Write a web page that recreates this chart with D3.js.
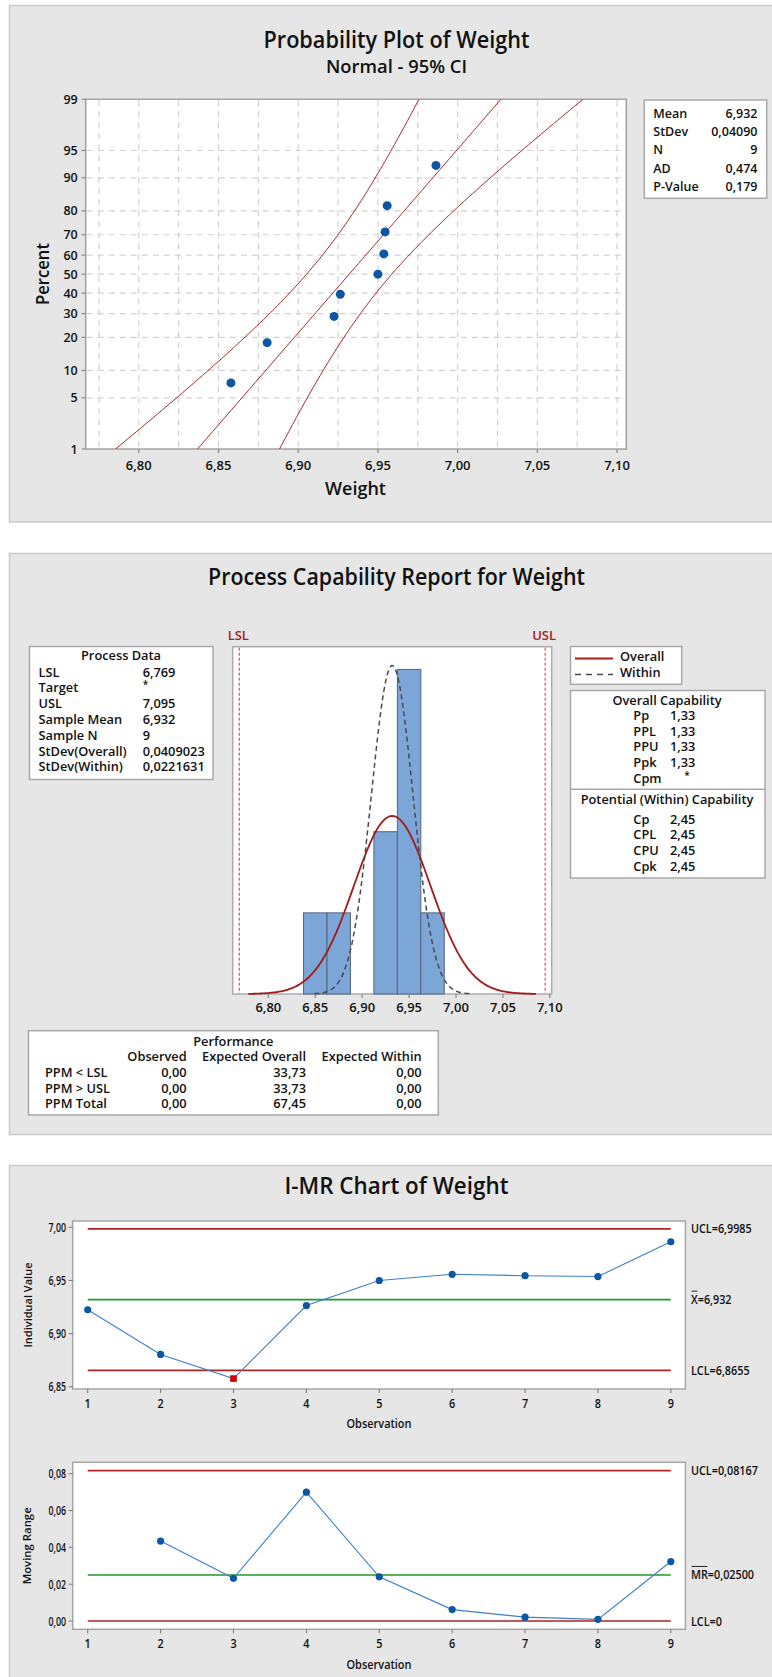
<!DOCTYPE html>
<html><head><meta charset="utf-8">
<script src="https://cdn.jsdelivr.net/npm/d3@7"></script>
<style>
body{margin:0;background:#fff;}
svg{display:block;font-family:"Open Sans","Noto Sans",sans-serif;}
</style></head><body>
<svg id="c" width="772" height="1677"></svg>
<script>
// ================= DATA =================
const observations = [1, 2, 3, 4, 5, 6, 7, 8, 9];
const weights = [6.9225, 6.8805, 6.8578, 6.9264, 6.9500, 6.9558, 6.9545, 6.9537, 6.9864];
const movingRanges = [null, 0.0434, 0.0232, 0.0700, 0.0240, 0.0062, 0.0021, 0.0009, 0.0323];
const outOfControl = [3];

// probability plot
const probPercents = [7.4, 18.1, 28.7, 39.4, 50.0, 60.6, 71.3, 81.9, 92.6];
const probYTicks = [1, 5, 10, 20, 30, 40, 50, 60, 70, 80, 90, 95, 99];
const probXTicks = [6.80, 6.85, 6.90, 6.95, 7.00, 7.05, 7.10];
const probXGrid = [6.775, 6.80, 6.825, 6.85, 6.875, 6.90, 6.925, 6.95, 6.975, 7.00, 7.025, 7.05, 7.075, 7.10];
const probStatLabels = ["Mean", "StDev", "N", "AD", "P-Value"];
const probStatValues = ["6,932", "0,04090", "9", "0,474", "0,179"];
const fitMean = 6.932, fitSd = 0.04090, fitN = 9;

// capability histogram
const binCenters = [6.850, 6.875, 6.900, 6.925, 6.950, 6.975];
const binCounts = [1, 1, 0, 2, 4, 1];
const binWidth = 0.025;
const histXTicks = [6.80, 6.85, 6.90, 6.95, 7.00, 7.05, 7.10];
const LSL = 6.769, USL = 7.095;
const sdOverall = 0.0409023, sdWithin = 0.0221631;
const processLabels = ["LSL", "Target", "USL", "Sample Mean", "Sample N", "StDev(Overall)", "StDev(Within)"];
const processValues = ["6,769", "*", "7,095", "6,932", "9", "0,0409023", "0,0221631"];
const overallCapLabels = ["Pp", "PPL", "PPU", "Ppk", "Cpm"];
const overallCapValues = ["1,33", "1,33", "1,33", "1,33", "*"];
const withinCapLabels = ["Cp", "CPL", "CPU", "Cpk"];
const withinCapValues = ["2,45", "2,45", "2,45", "2,45"];
const perfCols = ["Observed", "Expected Overall", "Expected Within"];
const perfRows = ["PPM < LSL", "PPM > USL", "PPM Total"];
const perfObserved = ["0,00", "0,00", "0,00"];
const perfExpOverall = ["33,73", "33,73", "67,45"];
const perfExpWithin = ["0,00", "0,00", "0,00"];

// I-MR
const iTicks = [6.85, 6.90, 6.95, 7.00];
const mrTicks = [0.00, 0.02, 0.04, 0.06, 0.08];
const iUCL = 6.9985, iMean = 6.932, iLCL = 6.8655;
const mrUCL = 0.08167, mrMean = 0.02500, mrLCL = 0;

// ================= HELPERS =================
const loc = d3.formatLocale({decimal: ",", thousands: ".", grouping: [3], currency: ["", ""]});
const f2 = loc.format(".2f");
const svg = d3.select("#c");

function txt(g, x, y, s, o = {}) {
  const t = g.append("text").attr("x", x).attr("y", y).text(s)
    .attr("font-size", o.size || 12.5).attr("font-weight", o.weight || 600)
    .attr("fill", o.fill || "#111").attr("text-anchor", o.anchor || "start")
    .attr("dominant-baseline", "central");
  if (o.rot) t.attr("transform", `rotate(${o.rot},${x},${y})`);
  if (o.w) t.attr("textLength", o.w).attr("lengthAdjust", "spacingAndGlyphs");
  if (o.sq) { const L = t.node().getComputedTextLength(); t.attr("textLength", L * o.sq).attr("lengthAdjust", "spacingAndGlyphs"); }
  return t;
}
function qnorm(p) {
  const a = [-3.969683028665376e+01, 2.209460984245205e+02, -2.759285104469687e+02, 1.383577518672690e+02, -3.066479806614716e+01, 2.506628277459239e+00];
  const b = [-5.447609879822406e+01, 1.615858368580409e+02, -1.556989798598866e+02, 6.680131188771972e+01, -1.328068155288572e+01];
  const c = [-7.784894002430293e-03, -3.223964580411365e-01, -2.400758277161838e+00, -2.549732539343734e+00, 4.374664141464968e+00, 2.938163982698783e+00];
  const d = [7.784695709041462e-03, 3.224671290700398e-01, 2.445134137142996e+00, 3.754408661907416e+00];
  const pl = 0.02425; let q, r;
  if (p < pl) { q = Math.sqrt(-2 * Math.log(p)); return (((((c[0]*q+c[1])*q+c[2])*q+c[3])*q+c[4])*q+c[5]) / ((((d[0]*q+d[1])*q+d[2])*q+d[3])*q+1); }
  if (p <= 1 - pl) { q = p - 0.5; r = q*q; return (((((a[0]*r+a[1])*r+a[2])*r+a[3])*r+a[4])*r+a[5])*q / (((((b[0]*r+b[1])*r+b[2])*r+b[3])*r+b[4])*r+1); }
  q = Math.sqrt(-2 * Math.log(1 - p)); return -(((((c[0]*q+c[1])*q+c[2])*q+c[3])*q+c[4])*q+c[5]) / ((((d[0]*q+d[1])*q+d[2])*q+d[3])*q+1);
}
const dnorm = (x, m, s) => Math.exp(-0.5 * ((x - m) / s) ** 2) / (s * Math.sqrt(2 * Math.PI));

function panel(y0, y1) {
  svg.append("rect").attr("x", 9.5).attr("y", y0 + 0.5).attr("width", 780).attr("height", y1 - y0)
    .attr("fill", "#e6e6e6").attr("stroke", "#cbcbcb").attr("stroke-width", 1.5);
}
function box(g, x0, y0, x1, y1, stroke = "#a9a9a9") {
  g.append("rect").attr("x", x0).attr("y", y0).attr("width", x1 - x0).attr("height", y1 - y0)
    .attr("fill", "#fff").attr("stroke", stroke).attr("stroke-width", 1.5);
}

// ================= PANEL 1: PROBABILITY PLOT =================
panel(5, 521.5);
const g1 = svg.append("g");
txt(g1, 396.5, 39, "Probability Plot of Weight", {size: 22.5, anchor: "middle", w: 266});
txt(g1, 396.5, 65.5, "Normal - 95% CI", {size: 17.5, weight: 600, anchor: "middle", w: 141});

const P1 = {x0: 85.7, x1: 626.3, y0: 99.3, y1: 449};
const xP = d3.scaleLinear().domain([6.7667, 7.1058]).range([P1.x0, P1.x1]);
const yP = d3.scaleLinear().domain([qnorm(0.01), qnorm(0.99)]).range([P1.y1, P1.y0]);
const yPct = p => yP(qnorm(p / 100));
box(g1, P1.x0, P1.y0, P1.x1, P1.y1, "#a3a3a3");
svg.append("clipPath").attr("id", "clip1").append("rect")
  .attr("x", P1.x0).attr("y", P1.y0).attr("width", P1.x1 - P1.x0).attr("height", P1.y1 - P1.y0);

g1.selectAll(".gx").data(probXGrid).join("line")
  .attr("x1", d => xP(d)).attr("x2", d => xP(d)).attr("y1", P1.y0 + 1).attr("y2", P1.y1 - 1)
  .attr("stroke", "#d2d2d2").attr("stroke-width", 1.2).attr("stroke-dasharray", "6,5");
g1.selectAll(".gy").data(probYTicks.filter(d => d > 1 && d < 99)).join("line")
  .attr("x1", P1.x0 + 1).attr("x2", P1.x1 - 1).attr("y1", d => yPct(d)).attr("y2", d => yPct(d))
  .attr("stroke", "#d2d2d2").attr("stroke-width", 1.2).attr("stroke-dasharray", "6,5");

g1.selectAll(".ty").data(probYTicks).join("line")
  .attr("x1", P1.x0 - 4).attr("x2", P1.x0).attr("y1", d => yPct(d)).attr("y2", d => yPct(d))
  .attr("stroke", "#888").attr("stroke-width", 1.2);
probYTicks.forEach(d => txt(g1, P1.x0 - 8, yPct(d), String(d), {size: 12.5, anchor: "end"}));
g1.selectAll(".tx").data(probXTicks).join("line")
  .attr("x1", d => xP(d)).attr("x2", d => xP(d)).attr("y1", P1.y1).attr("y2", P1.y1 + 4)
  .attr("stroke", "#888").attr("stroke-width", 1.2);
probXTicks.forEach(d => txt(g1, xP(d), 464.5, f2(d), {size: 13, anchor: "middle"}));
txt(g1, 355.5, 488, "Weight", {size: 17.5, anchor: "middle", w: 61});
txt(g1, 42, 274, "Percent", {size: 17.5, anchor: "middle", rot: -90, w: 62});

const zs = d3.range(0, 101).map(i => qnorm(0.01) + i * (qnorm(0.99) - qnorm(0.01)) / 100);
const half = z => 1.96 * fitSd * Math.sqrt(1 / fitN + z * z / (2 * fitN));
const lineP = d3.line().x(d => xP(d[0])).y(d => yP(d[1]));
const gc = g1.append("g").attr("clip-path", "url(#clip1)");
[z => fitMean + z * fitSd, z => fitMean + z * fitSd - half(z), z => fitMean + z * fitSd + half(z)].forEach(fn => {
  gc.append("path").attr("d", lineP(zs.map(z => [fn(z), z]))).attr("fill", "none")
    .attr("stroke", "#a52a2a").attr("stroke-width", 1);
});
const sortedW = weights.slice().sort(d3.ascending);
g1.selectAll(".pt").data(sortedW).join("circle")
  .attr("cx", d => xP(d)).attr("cy", (d, i) => yPct(probPercents[i])).attr("r", 4.5)
  .attr("fill", "#0b57a4");

box(g1, 644.3, 100, 766.7, 198.3);
probStatLabels.forEach((l, i) => {
  txt(g1, 653.3, 113.5 + i * 18.2, l, {size: 12.5});
  txt(g1, 757.5, 113.5 + i * 18.2, probStatValues[i], {size: 12.5, anchor: "end"});
});

// ================= PANEL 2: CAPABILITY =================
panel(553, 1134);
const g2 = svg.append("g");
txt(g2, 396.5, 576, "Process Capability Report for Weight", {size: 22.5, anchor: "middle", w: 377});

const P2 = {x0: 232.7, x1: 551.7, y0: 646.7, y1: 994};
const xH = d3.scaleLinear().domain([6.762, 7.102]).range([P2.x0, P2.x1]);
const yH = d3.scaleLinear().domain([0, 4.28]).range([P2.y1, P2.y0]);
box(g2, P2.x0, P2.y0, P2.x1, P2.y1, "#acacac");

g2.selectAll(".bar").data(binCenters).join("rect")
  .attr("x", d => xH(d - binWidth / 2)).attr("width", d => xH(d + binWidth / 2) - xH(d - binWidth / 2))
  .attr("y", (d, i) => yH(binCounts[i])).attr("height", (d, i) => yH(0) - yH(binCounts[i]))
  .attr("fill", "#7ca6d8").attr("stroke", "#56657a").attr("stroke-width", 1)
  .style("display", (d, i) => binCounts[i] > 0 ? null : "none");

const lineH = d3.line().x(d => xH(d[0])).y(d => yH(d[1])).curve(d3.curveBasis);
function normPts(m, s) {
  return d3.range(0, 161).map(i => { const x = m - 3.75 * s + i * 7.5 * s / 160; return [x, fitN * binWidth * dnorm(x, m, s)]; });
}
g2.append("path").attr("d", lineH(normPts(6.932, sdOverall))).attr("fill", "none")
  .attr("stroke", "#a31a1a").attr("stroke-width", 1.8);
g2.append("path").attr("d", lineH(normPts(6.932, sdWithin))).attr("fill", "none")
  .attr("stroke", "#4a4a4a").attr("stroke-width", 1.5).attr("stroke-dasharray", "5,3.5");

[LSL, USL].forEach((v, i) => {
  g2.append("line").attr("x1", xH(v)).attr("x2", xH(v)).attr("y1", P2.y0 + 1).attr("y2", P2.y1 - 1)
    .attr("stroke", "#e0302a").attr("stroke-width", 1).attr("stroke-dasharray", "3,2");
  txt(g2, xH(v) - 1, 634.5, i ? "USL" : "LSL", {size: 13, fill: "#a52222", anchor: "middle"});
});
g2.selectAll(".htx").data(histXTicks).join("line")
  .attr("x1", d => xH(d)).attr("x2", d => xH(d)).attr("y1", P2.y1).attr("y2", P2.y1 + 4)
  .attr("stroke", "#888").attr("stroke-width", 1.2);
histXTicks.forEach(d => txt(g2, xH(d), 1007, f2(d), {size: 13, anchor: "middle"}));

box(g2, 29.5, 646.5, 213, 779.5);
txt(g2, 121, 655, "Process Data", {size: 12.8, anchor: "middle"});
processLabels.forEach((l, i) => {
  const y = 671.5 + i * 15.8;
  const v = processValues[i];
  txt(g2, 38.5, y, l, {size: 12.8});
  txt(g2, v === "*" ? 145.5 : 142.7, v === "*" ? y - 3 : y, v, {size: v === "*" ? 10 : 12.8, anchor: v === "*" ? "middle" : "start"});
});

box(g2, 570.5, 646.5, 681.7, 684.3);
g2.append("line").attr("x1", 575).attr("x2", 613).attr("y1", 658.5).attr("y2", 658.5).attr("stroke", "#a31a1a").attr("stroke-width", 2);
g2.append("line").attr("x1", 575).attr("x2", 613).attr("y1", 674.5).attr("y2", 674.5).attr("stroke", "#4a4a4a").attr("stroke-width", 1.5).attr("stroke-dasharray", "6,5");
txt(g2, 620, 655.5, "Overall", {size: 12.8});
txt(g2, 620, 671.5, "Within", {size: 12.8});

box(g2, 570.5, 690.5, 765, 878);
g2.append("line").attr("x1", 570.5).attr("x2", 765).attr("y1", 789.3).attr("y2", 789.3).attr("stroke", "#a9a9a9").attr("stroke-width", 1.5);
txt(g2, 667, 699.5, "Overall Capability", {size: 12.8, anchor: "middle"});
overallCapLabels.forEach((l, i) => {
  const y = 714.8 + i * 15.75;
  txt(g2, 633.3, y, l, {size: 12.8});
  const v = overallCapValues[i];
  txt(g2, v === "*" ? 687 : 670, v === "*" ? y - 3 : y, v, {size: v === "*" ? 10 : 12.8, anchor: v === "*" ? "middle" : "start"});
});
txt(g2, 667, 798.5, "Potential (Within) Capability", {size: 12.8, anchor: "middle"});
withinCapLabels.forEach((l, i) => {
  const y = 818.5 + i * 15.75;
  txt(g2, 633.3, y, l, {size: 12.8});
  txt(g2, 670, y, withinCapValues[i], {size: 12.8});
});

box(g2, 28.5, 1030.7, 438.3, 1115);
txt(g2, 233.3, 1040.5, "Performance", {size: 12.8, anchor: "middle"});
const colR = [186.7, 306, 421.7];
perfCols.forEach((c, j) => txt(g2, colR[j], 1056, c, {size: 12.8, anchor: "end"}));
const perfVals = [perfObserved, perfExpOverall, perfExpWithin];
perfRows.forEach((r, i) => {
  const y = 1072 + i * 15.7;
  txt(g2, 45, y, r, {size: 12.8});
  perfVals.forEach((col, j) => txt(g2, colR[j], y, col[i], {size: 12.8, anchor: "end"}));
});

// ================= PANEL 3: I-MR =================
panel(1165, 1700);
const g3 = svg.append("g");
txt(g3, 396.5, 1185, "I-MR Chart of Weight", {size: 22.5, anchor: "middle", w: 224});

const xI = d3.scaleLinear().domain([0.794, 9.2]).range([72.7, 685.4]);
function controlChart(y0, y1, dom, ticks, fmt, vals, ucl, cl, lcl, labels, yTitle, yTitleW, xTitleY, xTickY) {
  const y = d3.scaleLinear().domain(dom).range([y1, y0]);
  box(g3, 72.7, y0, 685.4, y1, "#a6a6a6");
  g3.selectAll(null).data(ticks).join("line").attr("x1", 68.7).attr("x2", 72.7)
    .attr("y1", d => y(d)).attr("y2", d => y(d)).attr("stroke", "#777");
  ticks.forEach(d => txt(g3, 66, y(d), fmt(d), {size: 12, anchor: "end", w: 17.5}));
  g3.selectAll(null).data(observations).join("line").attr("x1", d => xI(d)).attr("x2", d => xI(d))
    .attr("y1", y1).attr("y2", y1 + 4).attr("stroke", "#777");
  observations.forEach(d => txt(g3, xI(d), xTickY, String(d), {size: 12, anchor: "middle", sq: 0.9}));
  txt(g3, 379, xTitleY, "Observation", {size: 12, weight: 600, anchor: "middle", w: 65});
  txt(g3, 27, (y0 + y1) / 2, yTitle, {size: 11.5, weight: 600, anchor: "middle", rot: -90, w: yTitleW});
  [[ucl, "#b22222"], [cl, "#1f9a2a"], [lcl, "#b22222"]].forEach(([v, col]) => {
    g3.append("line").attr("x1", xI(1)).attr("x2", xI(9)).attr("y1", y(v)).attr("y2", y(v))
      .attr("stroke", col).attr("stroke-width", 1.6);
  });
  [ucl, cl, lcl].forEach((v, i) => {
    const t = txt(g3, 691, y(v), labels[i].text, {size: 12, weight: 600, sq: 0.9});
    if (labels[i].bar) {
      const w = t.node().getSubStringLength(0, labels[i].bar);
      g3.append("line").attr("x1", 691.5).attr("x2", 691 + w - 0.5).attr("y1", y(v) - 8.5).attr("y2", y(v) - 8.5)
        .attr("stroke", "#222").attr("stroke-width", 1);
    }
  });
  const pts = observations.map((o, i) => [o, vals[i]]).filter(d => d[1] != null);
  g3.append("path").attr("d", d3.line().x(d => xI(d[0])).y(d => y(d[1]))(pts))
    .attr("fill", "none").attr("stroke", "#3d7fcc").attr("stroke-width", 1.1);
  return {y, pts};
}
const ic = controlChart(1221, 1389, [6.848, 7.0059], iTicks, f2, weights, iUCL, iMean, iLCL,
  [{text: "UCL=6,9985"}, {text: "X=6,932", bar: 1}, {text: "LCL=6,8655"}], "Individual Value", 85, 1423.5, 1403);
ic.pts.forEach(d => {
  if (outOfControl.includes(d[0])) {
    g3.append("rect").attr("x", xI(d[0]) - 3.3).attr("y", ic.y(d[1]) - 3.3).attr("width", 6.6).attr("height", 6.6).attr("fill", "#d40000");
  } else {
    g3.append("circle").attr("cx", xI(d[0])).attr("cy", ic.y(d[1])).attr("r", 3.6).attr("fill", "#0b57a4");
  }
});
const mc = controlChart(1462.3, 1629.3, [-0.0045, 0.0862], mrTicks, f2, movingRanges, mrUCL, mrMean, mrLCL,
  [{text: "UCL=0,08167"}, {text: "MR=0,02500", bar: 2}, {text: "LCL=0"}], "Moving Range", 77, 1664, 1643.5);
mc.pts.forEach(d => {
  g3.append("circle").attr("cx", xI(d[0])).attr("cy", mc.y(d[1])).attr("r", 3.6).attr("fill", "#0b57a4");
});
</script>
</body></html>
